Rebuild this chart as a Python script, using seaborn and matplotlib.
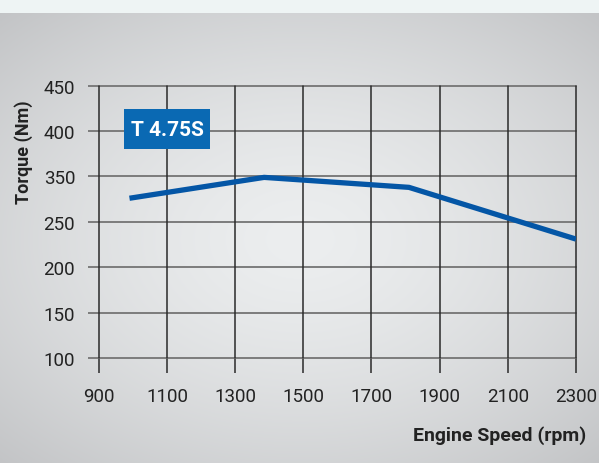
import numpy as np
import matplotlib
matplotlib.use("Agg")
import matplotlib.pyplot as plt
import seaborn as sns
import pandas as pd
from matplotlib.patches import Rectangle

# data (y in axis position units; the printed
# tick labels skip 300, so the labels are kept separately)
engine_speed = [990, 1385, 1810, 2300]
torque_pos = [276, 299, 288, 231]
x_ticks = [900, 1100, 1300, 1500, 1700, 1900, 2100, 2300]
y_ticks = [100, 150, 200, 250, 300, 350, 400]
y_tick_labels = ['100', '150', '200', '250', '350', '400', '450']
model_name = 'T 4.75S'

df = pd.DataFrame({'rpm': engine_speed, 'torque': torque_pos})

sns.set_theme(style="white")
plt.rcParams['font.family'] = ['Roboto', 'DejaVu Sans']

W, H = 599, 464
fig = plt.figure(figsize=(W / 100, H / 100), dpi=100)
fig.patch.set_facecolor('#eef4f4')

# gray radial backdrop below the light top band
band = 14
bg = fig.add_axes([0, 0, 1, 1 - band / H])
yy, xx = np.mgrid[0:H - band, 0:W]
d = np.sqrt(((xx - 300) / 350.0) ** 2 + ((yy + band - 240) / 245.0) ** 2)
t = np.clip(d, 0, 1.3) / 1.3
light = np.array([0.925, 0.933, 0.937])
dark = np.array([0.755, 0.760, 0.768])
img = light + (dark - light) * (t[..., None] ** 1.5)
bg.imshow(img, aspect='auto', interpolation='bilinear')
bg.axis('off')

ax = fig.add_axes([98.8 / W, 1 - 359 / H, (576 - 98.8) / W, (359 - 86.7) / H])
ax.patch.set_alpha(0)

sns.lineplot(data=df, x='rpm', y='torque', ax=ax, color='#0456a6',
             linewidth=3.8, solid_capstyle='butt', zorder=5)

ax.set_xlim(900, 2300)
ax.set_ylim(100, 400)
ax.set_xticks(x_ticks)
ax.set_yticks(y_ticks)
ax.set_yticklabels(y_tick_labels)

for s in ax.spines.values():
    s.set_visible(False)

# grid lines: horizontals gray, verticals dark
for yv in y_ticks:
    ax.axhline(yv, color='#7c7c7c', lw=1.4, zorder=2, clip_on=False)
for xv in x_ticks:
    ax.axvline(xv, color='#2a2a2a', lw=1.1, zorder=3, clip_on=False)

ax.tick_params(axis='x', direction='out', length=11, width=1.1,
               color='#2a2a2a', pad=10, labelsize=13.5, labelcolor='#222222')
ax.tick_params(axis='y', direction='out', length=8, width=1.4,
               color='#7c7c7c', pad=9, labelsize=13.5, labelcolor='#222222')
ax.tick_params(axis='both', bottom=True, left=True)

ax.set_xlabel('')
ax.set_ylabel('')
fig.text(586 / W, 1 - 436 / H, 'Engine Speed (rpm)', ha='right', va='center',
         fontsize=14, fontweight='bold', color='#222222')
fig.text(24 / W, 1 - 152 / H, 'Torque (Nm)', ha='center', va='center',
         rotation=90, fontsize=13, fontweight='bold', color='#222222')

# model tag
bx0, bx1, by0, by1 = 124, 210, 110, 150
ax.add_patch(Rectangle(((bx0 - 98.8) / (576 - 98.8), (359 - by1) / (359 - 86.7)),
                       (bx1 - bx0) / (576 - 98.8), (by1 - by0) / (359 - 86.7),
                       transform=ax.transAxes, facecolor='#0a69b3',
                       edgecolor='none', zorder=6))
ax.text(((bx0 + bx1) / 2 - 98.8) / (576 - 98.8), (359 - (by0 + by1) / 2) / (359 - 86.7),
        model_name, transform=ax.transAxes, ha='center', va='center',
        fontsize=15, fontweight='bold', color='white', zorder=7)

fig.savefig('out.png', dpi=100)
